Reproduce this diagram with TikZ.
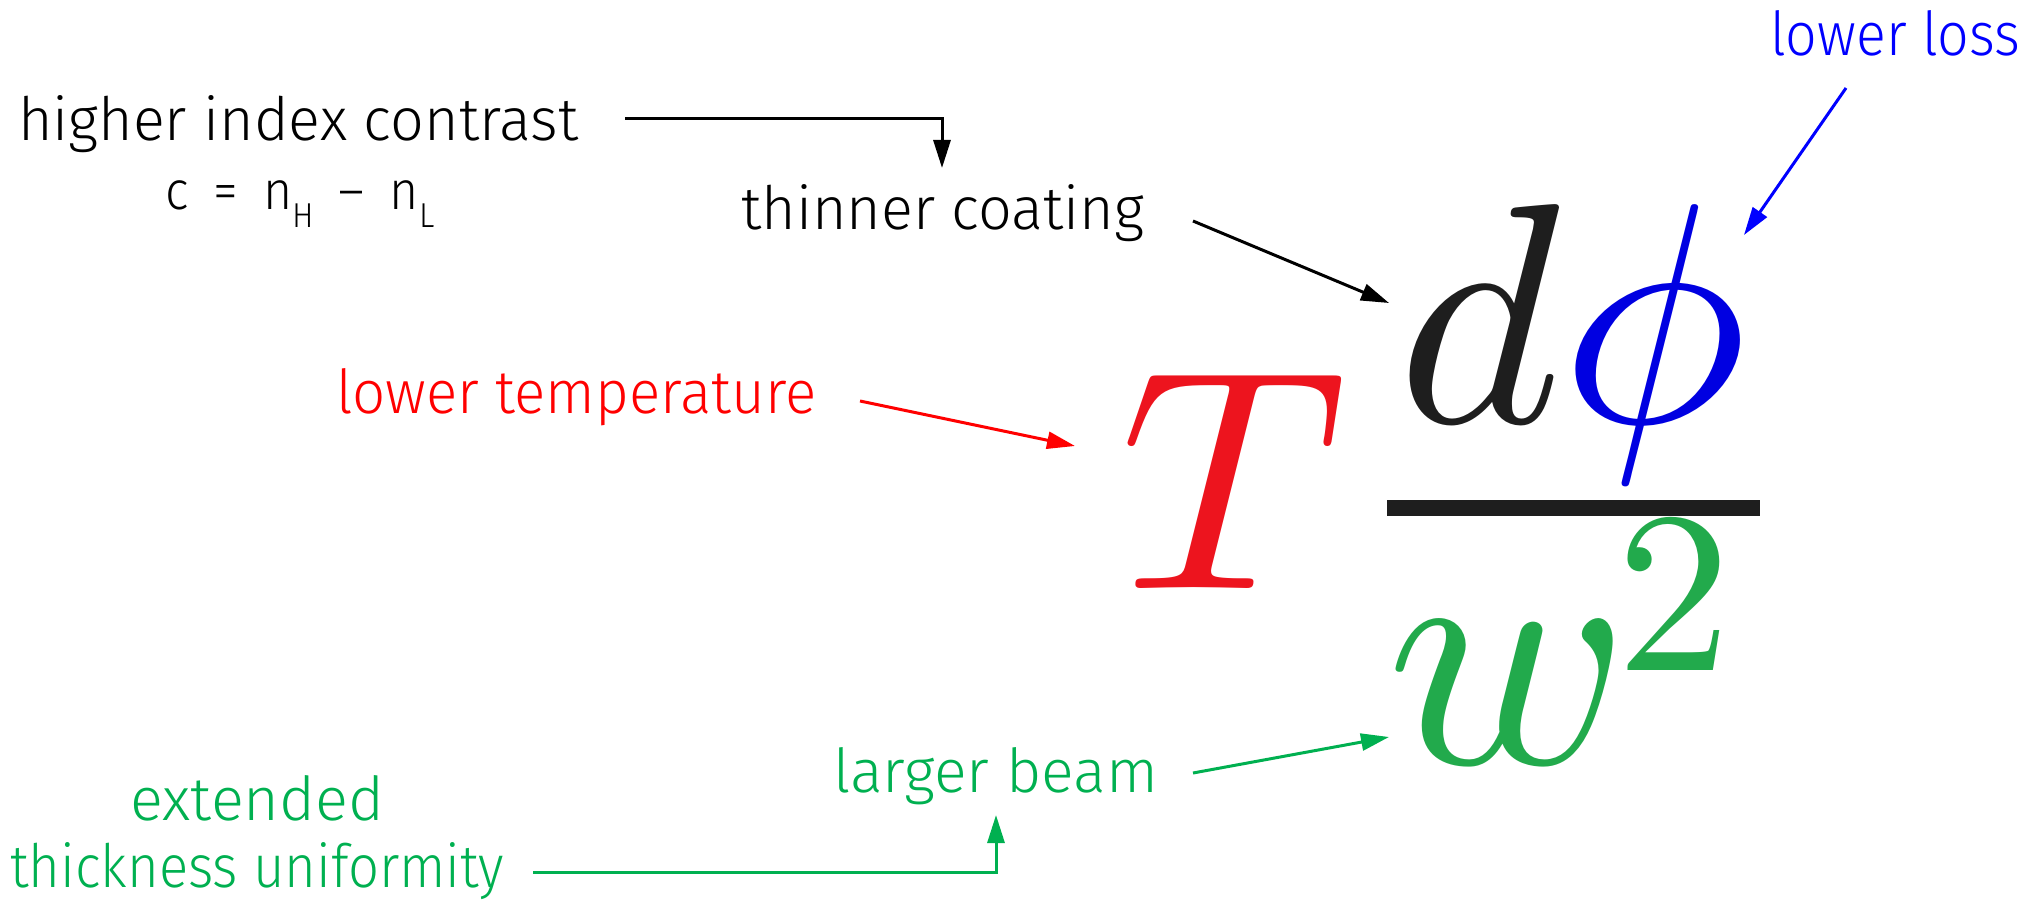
\documentclass[tikz,border=0pt]{standalone}
\usepackage[no-math]{fontspec}
\IfFontExistsTF{Fira Sans Light}{\setmainfont{Fira Sans Light}}{\IfFontExistsTF{Lato Light}{\setmainfont{Lato Light}}{\setmainfont{Fira Sans}}}
\usepackage{graphicx}
\usetikzlibrary{arrows.meta}
\definecolor{lblred}{RGB}{255,0,0}
\definecolor{lblblue}{RGB}{0,0,255}
\definecolor{lblgreen}{RGB}{0,176,80}
\definecolor{fred}{RGB}{237,20,30}
\definecolor{fblue}{RGB}{0,0,225}
\definecolor{fgreen}{RGB}{34,170,76}
\definecolor{fblack}{RGB}{30,30,30}
\tikzset{
  lab/.style={anchor=base west, inner sep=0pt, font=\fontsize{56}{64}\selectfont},
  fx/.style={anchor=base west, inner sep=0pt},
  conn/.style={line width=3pt, -{Triangle[length=28pt,width=17pt]}},
}
\newcommand{\fitlab}[2]{\resizebox{#1pt}{45pt}{#2}}
\newcommand{\subl}[1]{\raisebox{-0.32em}{\fontsize{32}{36}\selectfont #1}}
\begin{document}
\begin{tikzpicture}[x=1pt,y=-1pt]
\useasboundingbox (0,0) rectangle (2036,901);
% labels
\node[lab] (hic) at (18,141) {\fitlab{560}{higher index contrast}};
\node[lab, font=\fontsize{50}{58}\selectfont] (cdef) at (165,210) {\scalebox{1}[1.08]{c\hspace{0.5em}=\hspace{0.5em}n\subl{H}\hspace{0.5em}–\hspace{0.5em}n\subl{L}}};
\node[lab] (tc) at (741,230) {\fitlab{403}{thinner coating}};
\node[lab, text=lblblue] (ll) at (1770,56) {\fitlab{250}{lower loss}};
\node[lab, text=lblred] (lt) at (336,413) {\fitlab{480}{lower temperature}};
\node[lab, text=lblgreen] (lb) at (833,792) {\fitlab{325}{larger beam}};
\node[lab, text=lblgreen] (ext) at (130,820) {\fitlab{254}{extended}};
\node[lab, text=lblgreen] (thu) at (10,887) {\fitlab{494}{thickness uniformity}};
% formula
\node[fx] (T) at (1120,588) {\scalebox{31.4}{$\color{fred}T$}};
\node[fx] (dphi) at (1397,422) {\scalebox{31.4}{$\color{fblack}d{\color{fblue}\phi}$}};
\fill[fblack] (1387,500) rectangle (1760,516);
\node[fx] (w) at (1386,763) {\scalebox{32.8}{$\color{fgreen}w$}};
\node[fx] (two) at (1616,670) {\scalebox{23}{$\color{fgreen}2$}};
% connector end points
\coordinate (hicA) at (625,119);
\coordinate (tcA) at (942,168);
\coordinate (tcB) at (1193,221);
\coordinate (dA) at (1389,303);
\coordinate (llA) at (1846,88);
\coordinate (phiA) at (1744,235);
\coordinate (ltA) at (860,401);
\coordinate (TA) at (1075,446);
\coordinate (thuA) at (533,872);
\coordinate (lbA) at (996,815);
\coordinate (lbB) at (1193,773);
\coordinate (wA) at (1389,737);
% connectors
\draw[conn, black] (hicA) -| (tcA);
\draw[conn, black] (tcB) -- (dA);
\draw[conn, lblblue] (llA) -- (phiA);
\draw[conn, lblred] (ltA) -- (TA);
\draw[conn, lblgreen] (thuA) -| (lbA);
\draw[conn, lblgreen] (lbB) -- (wA);
\end{tikzpicture}
\end{document}
